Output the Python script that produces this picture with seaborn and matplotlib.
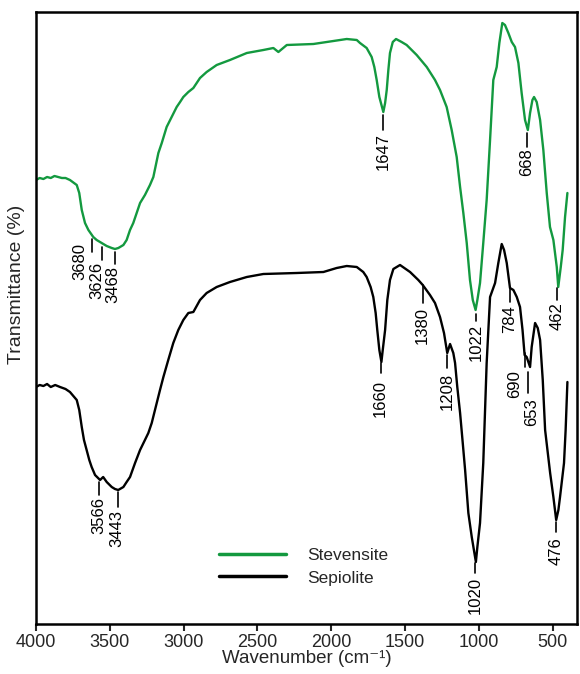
import matplotlib
matplotlib.use("Agg")
import matplotlib.pyplot as plt
import seaborn as sns
import pandas as pd

# ---- data (transmittance in arbitrary units) ----
stev_wn = [4000, 3975, 3950, 3925, 3900, 3875, 3850, 3825, 3800, 3770,
           3724, 3707, 3690, 3668, 3645, 3612, 3589, 3555, 3521, 3487,
           3465, 3442, 3408, 3386, 3363, 3341, 3318, 3295, 3262, 3228,
           3205, 3171, 3148, 3115, 3081, 3047, 3024, 3002, 2968, 2934,
           2889, 2844, 2776, 2686, 2572, 2460, 2392, 2358, 2301, 2121,
           1940, 1895, 1827, 1805, 1760, 1726, 1708, 1692, 1674, 1647,
           1635, 1624, 1613, 1602, 1583, 1561, 1523, 1489, 1421, 1353,
           1297, 1263, 1218, 1184, 1150, 1127, 1105, 1082, 1060, 1041,
           1022, 1010, 992, 970, 947, 924, 902, 879, 861, 841,
           823, 800, 777, 755, 732, 710, 687, 668, 653, 637,
           626, 608, 585, 563, 540, 518, 495, 472, 462, 445,
           432, 416, 400]
stev_T = [444, 446, 445, 447, 446, 448, 447, 446, 446, 444,
          439, 431, 414, 401, 394, 387, 384, 381, 378, 376,
          375, 376, 379, 384, 394, 401, 411, 421, 429, 439,
          447, 471, 481, 497, 507, 517, 522, 527, 532, 536,
          546, 552, 559, 564, 571, 574, 576, 572, 579, 580,
          584, 585, 584, 581, 576, 567, 557, 544, 527, 512,
          521, 534, 554, 571, 582, 585, 582, 579, 569, 557,
          544, 534, 517, 494, 467, 437, 411, 381, 344, 324,
          314, 324, 341, 381, 424, 484, 544, 557, 581, 601,
          599, 591, 582, 577, 561, 531, 504, 494, 511, 524,
          527, 522, 504, 474, 431, 397, 384, 357, 337, 357,
          374, 407, 431]

sep_wn = [4000, 3975, 3950, 3925, 3900, 3870, 3837, 3800, 3770, 3724,
          3707, 3690, 3675, 3657, 3639, 3623, 3600, 3566, 3545, 3521,
          3487, 3465, 3443, 3408, 3386, 3363, 3329, 3295, 3262, 3239,
          3216, 3194, 3160, 3137, 3104, 3070, 3036, 3002, 2968, 2934,
          2889, 2844, 2776, 2686, 2572, 2460, 2234, 2053, 1963, 1895,
          1827, 1783, 1760, 1733, 1715, 1699, 1688, 1674, 1660, 1651,
          1635, 1620, 1602, 1579, 1534, 1466, 1410, 1380, 1331, 1297,
          1263, 1236, 1214, 1195, 1173, 1161, 1146, 1127, 1109, 1093,
          1071, 1048, 1020, 1010, 992, 970, 947, 924, 890, 868,
          845, 829, 811, 789, 766, 743, 721, 704, 690, 676,
          653, 642, 619, 601, 585, 567, 551, 517, 495, 476,
          461, 450, 423, 412, 400]
sep_T = [237, 239, 238, 240, 237, 239, 237, 235, 232, 224,
         214, 197, 184, 174, 164, 157, 149, 144, 147, 142,
         137, 135, 134, 137, 142, 147, 161, 174, 184, 191,
         201, 214, 234, 247, 264, 281, 294, 304, 311, 312,
         324, 331, 337, 342, 347, 350, 351, 352, 356, 358,
         357, 352, 347, 337, 327, 311, 294, 274, 262, 274,
         294, 324, 344, 355, 359, 352, 344, 339, 329, 321,
         307, 291, 271, 280, 271, 261, 237, 211, 181, 154,
         111, 87, 62, 77, 101, 161, 261, 327, 341, 361,
         380, 374, 361, 336, 334, 327, 317, 294, 269, 267,
         257, 277, 301, 296, 284, 244, 194, 151, 127, 104,
         114, 127, 161, 194, 242]

stev_peaks = [3680, 3626, 3468, 1647, 1022, 668, 462]
sep_peaks = [3566, 3443, 1660, 1380, 1208, 1020, 784, 690, 653, 476]

series_names = ["Stevensite", "Sepiolite"]
x_ticks = [4000, 3500, 3000, 2500, 2000, 1500, 1000, 500]

# ---- style ----
sns.set_style("white")
plt.rcParams["font.family"] = ["Liberation Sans", "DejaVu Sans"]

GREEN = "#13993f"
fig = plt.figure(figsize=(5.8, 6.74), dpi=100)
ax = fig.add_axes([36 / 580, 1 - 624 / 674, 541 / 580, 612 / 674])

df = pd.concat([
    pd.DataFrame({"wn": stev_wn, "T": stev_T, "sample": series_names[0]}),
    pd.DataFrame({"wn": sep_wn, "T": sep_T, "sample": series_names[1]}),
])
sns.lineplot(data=df, x="wn", y="T", hue="sample",
             palette={series_names[0]: GREEN, series_names[1]: "black"},
             estimator=None, lw=1.7, ax=ax, legend=True)

ax.set_xlim(4000, 335)
ax.set_ylim(0, 612)
ax.set_xticks(x_ticks)
ax.set_yticks([])
ax.tick_params(axis="x", direction="out", length=5, width=1.5,
               labelsize=13, pad=2, bottom=True)
for s in ax.spines.values():
    s.set_linewidth(1.8)
    s.set_color("black")

ax.set_xlabel("Wavenumber (cm\u207b\u00b9)", fontsize=13.5)
ax.xaxis.set_label_coords(0.5, -0.043)
ax.xaxis.label.set_va("top")
ax.set_ylabel("Transmittance (%)", fontsize=14)
ax.yaxis.set_label_coords(-0.02, 0.555)

# ---- peak annotations: label -> (text_x, text_top, tick_x, tick_top, tick_bottom)
layout = {
    "3680": (3702, 381, 3621, 385, 372),
    "3626": (3587, 362, 3553, 377, 364),
    "3468": (3478, 358, 3465, 372, 360),
    "1647": (1649, 491, 1647, 509, 494),
    "1022": (1019, 300, 1022, 310, 303),
    "668": (673, 476, 673, 491, 477),
    "462": (468, 322, 468, 336, 324),
    "3566": (3573, 127, 3573, 142, 129),
    "3443": (3451, 114, 3444, 132, 117),
    "1660": (1665, 244, 1665, 261, 251),
    "1380": (1380, 317, 1380, 339, 321),
    "1208": (1217, 251, 1217, 269, 256),
    "1020": (1026, 47, 1026, 61, 51),
    "784": (789, 319, 789, 336, 322),
    "690": (755, 254, 687, 271, 257),
    "653": (642, 226, 667, 252, 231),
    "476": (479, 87, 479, 102, 92),
}
for pk in stev_peaks + sep_peaks:
    tx, ty, kx, k0, k1 = layout[str(pk)]
    ax.plot([kx, kx], [k0, k1], color="black", lw=1.2)
    ax.text(tx, ty, str(pk), rotation=90, ha="center", va="top",
            fontsize=12, color="black")

leg = ax.legend(title=None, frameon=False, fontsize=12.5,
                loc="upper left", bbox_to_anchor=(0.325, 0.135),
                handlelength=3.9, handletextpad=1.2, labelspacing=0.4,
                borderaxespad=0)
for line in leg.get_lines():
    line.set_linewidth(2.5)

fig.savefig("out.png", dpi=100)
